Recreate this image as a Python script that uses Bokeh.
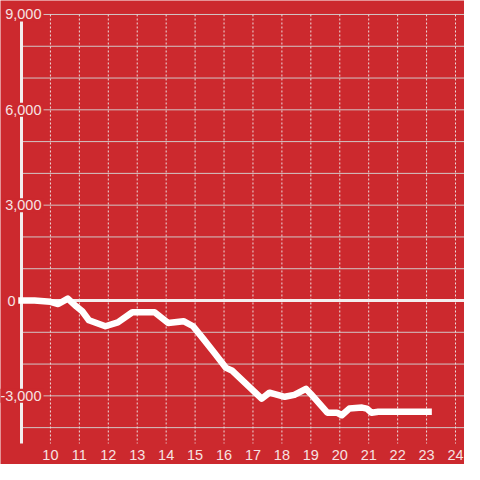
from bokeh.plotting import figure
from bokeh.models import Range1d
from bokeh.core.properties import value
from bokeh.embed import file_html
from bokeh.resources import INLINE

# ---- data ----
hours = [9.0, 9.45, 10.0, 10.27, 10.6, 10.9, 11.1, 11.33, 11.9, 12.33, 12.83, 13.6,
         14.07, 14.6, 14.93, 15.27, 15.67, 16.07, 16.27, 17.3, 17.57, 18.1, 18.43,
         18.83, 19.0, 19.57, 19.9, 20.07, 20.33, 20.77, 20.93, 21.1, 21.33, 23.07]
values = [0, 0, -40, -110, 60, -190, -340, -620, -810, -690, -370, -370,
          -710, -650, -810, -1190, -1650, -2120, -2200, -3090, -2900, -3030, -2970,
          -2780, -2940, -3530, -3530, -3610, -3400, -3370, -3400, -3530, -3500, -3500]

x_ticks = list(range(10, 25))
x_tick_labels = [str(t) for t in x_ticks]
y_grid = list(range(-4000, 10000, 1000))
y_ticks = [9000, 6000, 3000, 0, -3000]
y_tick_labels = ["9,000", "6,000", "3,000", "0", "-3,000"]

BG = "#cc292e"
FONT = value("Liberation Sans")

PX_PER_HOUR = (455 - 21) / 15
p = figure(width=464, height=464, output_backend="svg", toolbar_location=None,
           x_axis_type=None, y_axis_type=None,
           x_range=Range1d(9 - 21 / PX_PER_HOUR, 9 + 443 / PX_PER_HOUR),
           y_range=Range1d(-5160, 9440),
           min_border=0, background_fill_color=BG, border_fill_color=BG)
p.outline_line_color = None

x_axis_pos = 9.0
x_end = 25.0
grid_top = 9000
grid_bottom = -4500
x_label_y = -4870

# horizontal solid gridlines
p.segment(x0=[x_axis_pos] * len(y_grid), y0=y_grid, x1=[x_end] * len(y_grid), y1=y_grid,
          line_color="#d2c6c6", line_width=1)
# vertical dotted gridlines
p.segment(x0=x_ticks, y0=[grid_top] * len(x_ticks), x1=x_ticks, y1=[grid_bottom] * len(x_ticks),
          line_color="#ecdede", line_width=1, line_dash="2 2")
# zero line
p.segment(x0=[x_axis_pos], y0=[0], x1=[x_end], y1=[0], line_color="#f3eeee", line_width=3)
# y axis line
p.segment(x0=[x_axis_pos], y0=[grid_top], x1=[x_axis_pos], y1=[grid_bottom],
          line_color="#f3eeee", line_width=3)

# y tick labels with background
offsets = [22 if t != 0 else -4 for t in y_ticks]
p.text(x=[x_axis_pos] * len(y_ticks), y=y_ticks, text=y_tick_labels, x_offset=offsets,
       text_align="right", text_baseline="middle", text_font=FONT,
       text_font_size="14.5px", text_color="#f6e2e2",
       background_fill_color=BG, padding=2)

# x tick labels
p.text(x=x_ticks, y=[x_label_y] * len(x_ticks), text=x_tick_labels,
       text_align="center", text_baseline="middle", text_font=FONT,
       text_font_size="14.5px", text_color="#f6e2e2")

# data line
p.line(hours, values, line_color="white", line_width=6.5, line_join="round", line_cap="square")

open("out.html", "w").write(file_html(p, INLINE))
